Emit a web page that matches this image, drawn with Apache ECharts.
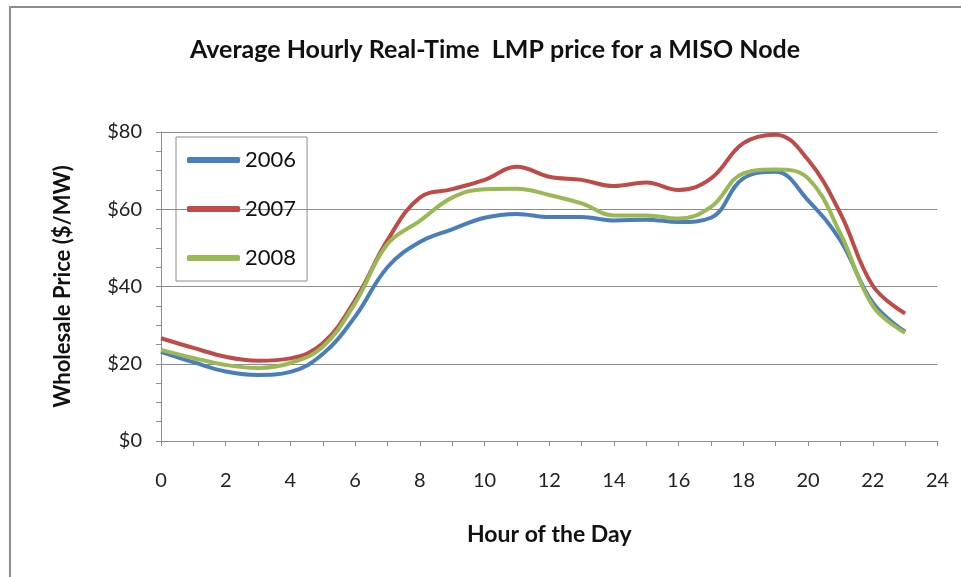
<!DOCTYPE html>
<html>
<head>
<meta charset="utf-8">
<script src="https://cdn.jsdelivr.net/npm/echarts@6/dist/echarts.min.js"></script>
<style>
  html, body { margin: 0; padding: 0; background: #fff; }
  #chart { width: 961px; height: 577px; }
</style>
</head>
<body>
<div id="chart"></div>
<script>
// hours of the day
const hours = [0, 1, 2, 3, 4, 5, 6, 7, 8, 9, 10, 11, 12, 13, 14, 15, 16, 17, 18, 19, 20, 21, 22, 23];

// average real-time LMP, $/MW
const price2006 = [23.1, 20.4, 18.0, 17.1, 17.9, 22.5, 32.2, 45.0, 51.5, 54.8, 57.8, 58.8, 58.0, 58.0, 57.1, 57.3, 56.7, 57.8, 68.0, 69.7, 62.3, 51.9, 35.8, 28.3];
const price2007 = [26.6, 24.1, 21.8, 20.8, 21.4, 25.3, 36.5, 52.0, 63.0, 65.2, 67.6, 71.0, 68.4, 67.6, 66.0, 66.9, 65.0, 68.0, 77.1, 79.3, 72.8, 58.9, 40.2, 33.0];
const price2008 = [23.6, 21.5, 19.7, 18.9, 20.2, 24.4, 35.7, 51.0, 57.0, 63.0, 65.2, 65.3, 63.7, 61.5, 58.4, 58.4, 57.6, 60.6, 69.3, 70.3, 68.0, 53.7, 35.0, 28.0];

const seriesNames = ['2006', '2007', '2008'];
const seriesColors = ['#4a7ebb', '#be4b48', '#98b954'];

const chart = echarts.init(document.getElementById('chart'));

const font = 'Lato, "Open Sans", sans-serif';

function makeSeries(name, values, color) {
  return {
    name: name,
    type: 'line',
    data: hours.map((h, i) => [h, values[i]]),
    smooth: 0.4,
    showSymbol: false,
    symbol: 'none',
    lineStyle: { color: color, width: 4 },
    itemStyle: { color: color }
  };
}

chart.setOption({
  animation: false,
  textStyle: { fontFamily: font },
  title: {
    text: 'Average Hourly Real-Time  LMP price for a MISO Node',
    left: 490,
    top: 32,
    textAlign: 'center',
    textStyle: { fontFamily: font, fontSize: 25, fontWeight: 'bold', color: '#111' }
  },
  graphic: [{
    type: 'rect',
    shape: { x: 10, y: 7, width: 1000, height: 700 },
    style: { fill: 'none', stroke: '#8c8c8c', lineWidth: 2 },
    silent: true
  }],
  legend: {
    orient: 'vertical',
    left: 176,
    top: 137,
    data: seriesNames,
    icon: 'roundRect',
    itemWidth: 53,
    itemHeight: 6,
    itemGap: 27,
    padding: [12, 11, 12, 11],
    borderColor: '#8c8c8c',
    borderWidth: 1,
    textStyle: { fontFamily: font, fontSize: 22, color: '#111', lineHeight: 22 }
  },
  grid: { left: 161, right: 23.5, top: 132, bottom: 136 },
  xAxis: {
    type: 'value',
    min: 0,
    max: 24,
    interval: 2,
    name: 'Hour of the Day',
    nameLocation: 'middle',
    nameGap: 82,
    nameTextStyle: { fontFamily: font, fontSize: 23, fontWeight: 'bold', color: '#111' },
    axisLine: { show: true, lineStyle: { color: '#8c8c8c', width: 1 } },
    axisTick: { show: true, length: 5, lineStyle: { color: '#8c8c8c' } },
    minorTick: { show: true, splitNumber: 2, length: 5, lineStyle: { color: '#8c8c8c' } },
    axisLabel: { margin: 30, fontSize: 20, color: '#222', fontFamily: font },
    splitLine: { show: false }
  },
  yAxis: {
    type: 'value',
    min: 0,
    max: 80,
    interval: 20,
    name: 'Wholesale Price ($/MW)',
    nameLocation: 'middle',
    nameGap: 87,
    nameTextStyle: { fontFamily: font, fontSize: 22, fontWeight: 'bold', color: '#111' },
    axisLine: { show: true, lineStyle: { color: '#8c8c8c', width: 1 } },
    axisTick: { show: true, length: 5, lineStyle: { color: '#8c8c8c' } },
    minorTick: { show: true, splitNumber: 4, length: 5, lineStyle: { color: '#8c8c8c' } },
    axisLabel: { margin: 19, fontSize: 20, color: '#222', fontFamily: font, formatter: v => '$' + v },
    splitLine: { show: true, lineStyle: { color: '#8c8c8c', width: 1 } }
  },
  series: [
    makeSeries(seriesNames[0], price2006, seriesColors[0]),
    makeSeries(seriesNames[1], price2007, seriesColors[1]),
    makeSeries(seriesNames[2], price2008, seriesColors[2])
  ]
});
</script>
</body>
</html>
